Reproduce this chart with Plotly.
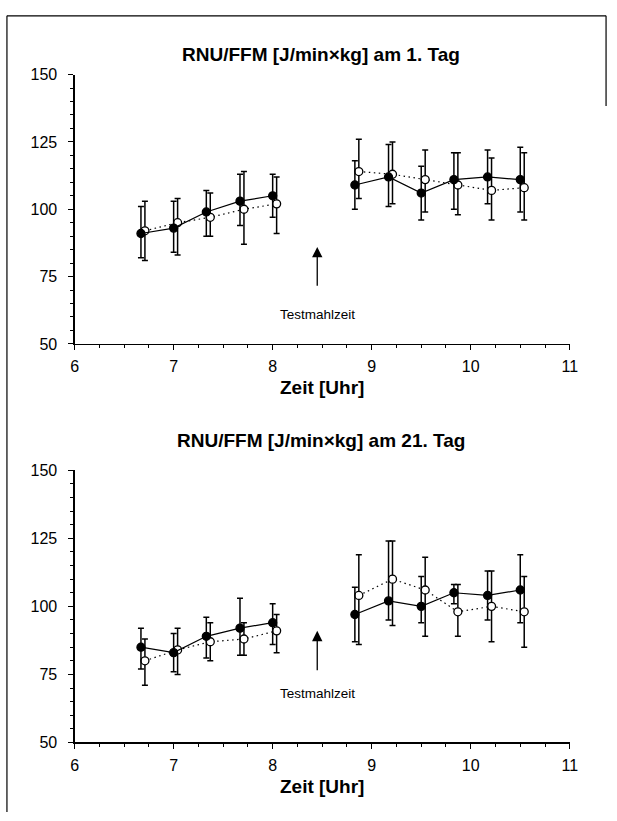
import plotly.graph_objects as go

# ---------------- data ----------------
t_pre = [6.67, 7.0, 7.33, 7.67, 8.0]
t_post = [8.83, 9.17, 9.5, 9.83, 10.17, 10.5]
shift = 0.04  # open circles drawn slightly to the right

# Day 1 (top)
d1_fill_pre = [91, 93, 99, 103, 105]
d1_fill_pre_hi = [101, 103, 107, 113, 113]
d1_fill_pre_lo = [82, 84, 90, 94, 97]
d1_open_pre = [92, 95, 97, 100, 102]
d1_open_pre_hi = [103, 104, 106, 114, 112]
d1_open_pre_lo = [81, 83, 90, 87, 91]

d1_fill_post = [109, 112, 106, 111, 112, 111]
d1_fill_post_hi = [118, 124, 116, 121, 122, 123]
d1_fill_post_lo = [100, 101, 96, 100, 102, 99]
d1_open_post = [114, 113, 111, 109, 107, 108]
d1_open_post_hi = [126, 125, 122, 121, 119, 121]
d1_open_post_lo = [104, 102, 99, 98, 96, 96]

# Day 21 (bottom)
d21_fill_pre = [85, 83, 89, 92, 94]
d21_fill_pre_hi = [92, 90, 96, 103, 101]
d21_fill_pre_lo = [77, 76, 81, 82, 86]
d21_open_pre = [80, 84, 87, 88, 91]
d21_open_pre_hi = [88, 92, 94, 94, 97]
d21_open_pre_lo = [71, 75, 80, 82, 83]

d21_fill_post = [97, 102, 100, 105, 104, 106]
d21_fill_post_hi = [107, 124, 111, 108, 113, 119]
d21_fill_post_lo = [87, 95, 94, 101, 95, 94]
d21_open_post = [104, 110, 106, 98, 100, 98]
d21_open_post_hi = [119, 124, 118, 108, 113, 111]
d21_open_post_lo = [86, 93, 89, 89, 87, 85]

titles = ["RNU/FFM [J/min\u00d7kg] am 1. Tag", "RNU/FFM [J/min\u00d7kg] am 21. Tag"]
x_title = "Zeit [Uhr]"
meal_label = "Testmahlzeit"
meal_time = 8.45
arrow_top = [86, 91]
arrow_bottom = [71, 76]
label_y = [61, 68]

FONT = "Liberation Sans"
W, H = 617, 821

fig = go.Figure()


def px_x(v):
    return v / W


def py(v):
    return 1 - v / H


xdom = [px_x(72), px_x(577)]
ydoms = [[py(343), py(68)], [py(750), py(472)]]
title_y = [35, 442]


def add_series(t, y, hi, lo, filled, xa, ya, dash, dx=0.0):
    xs = [ti + dx for ti in t]
    fig.add_trace(go.Scatter(
        x=xs, y=y, xaxis=xa, yaxis=ya, mode="lines+markers",
        line=dict(color="black", width=1.2, dash=dash),
        marker=dict(symbol="circle", size=8,
                    color="black" if filled else "white",
                    line=dict(color="black", width=1.3)),
        error_y=dict(type="data", symmetric=False,
                     array=[h - v for h, v in zip(hi, y)],
                     arrayminus=[v - l for v, l in zip(y, lo)],
                     color="black", thickness=1.5, width=3),
        showlegend=False, hoverinfo="skip"))


panels = [
    (d1_fill_pre, d1_fill_pre_hi, d1_fill_pre_lo, d1_open_pre, d1_open_pre_hi, d1_open_pre_lo,
     d1_fill_post, d1_fill_post_hi, d1_fill_post_lo, d1_open_post, d1_open_post_hi, d1_open_post_lo),
    (d21_fill_pre, d21_fill_pre_hi, d21_fill_pre_lo, d21_open_pre, d21_open_pre_hi, d21_open_pre_lo,
     d21_fill_post, d21_fill_post_hi, d21_fill_post_lo, d21_open_post, d21_open_post_hi, d21_open_post_lo),
]

DOTTED = "1.5px,3.5px"

for i, p in enumerate(panels):
    xa = "x" if i == 0 else "x2"
    ya = "y" if i == 0 else "y2"
    (fp, fph, fpl, op, oph, opl, fq, fqh, fql, oq, oqh, oql) = p
    add_series(t_pre, op, oph, opl, False, xa, ya, DOTTED, shift)
    add_series(t_pre, fp, fph, fpl, True, xa, ya, "solid")
    add_series(t_post, oq, oqh, oql, False, xa, ya, DOTTED, shift)
    add_series(t_post, fq, fqh, fql, True, xa, ya, "solid")

    axis_common = dict(showgrid=False, zeroline=False, showline=True, linecolor="black",
                       linewidth=1.2, ticks="outside", tickcolor="black", ticklen=5,
                       tickfont=dict(family=FONT, size=16, color="black"))
    xkey = "xaxis" if i == 0 else "xaxis2"
    ykey = "yaxis" if i == 0 else "yaxis2"
    fig.update_layout(**{
        xkey: dict(domain=xdom, range=[6, 11], dtick=1, anchor=ya, ticklabelstandoff=3,
                   minor=dict(dtick=0.25, ticks="outside", ticklen=3, tickcolor="black"),
                   title=dict(text=x_title, font=dict(family=FONT, size=19, color="black",
                                                      weight="bold"), standoff=6),
                   **axis_common),
        ykey: dict(domain=ydoms[i], range=[50, 150], dtick=25, anchor=xa,
                   ticklabelstandoff=8,
                   minor=dict(dtick=5, ticks="outside", ticklen=3, tickcolor="black"),
                   **axis_common),
    })

    # arrow marking the test meal
    fig.add_annotation(x=meal_time, y=arrow_top[i], ax=meal_time, ay=arrow_bottom[i],
                       xref=xa, yref=ya, axref=xa, ayref=ya, showarrow=True,
                       arrowhead=2, arrowsize=1.6, arrowwidth=1.3, arrowcolor="black", text="")
    fig.add_annotation(x=meal_time, y=label_y[i], xref=xa, yref=ya, showarrow=False,
                       text=meal_label, font=dict(family=FONT, size=13.5, color="black"))
    # panel title
    fig.add_annotation(x=px_x(323), y=py(title_y[i]), xref="paper", yref="paper",
                       showarrow=False, text=titles[i],
                       font=dict(family=FONT, size=19, color="black", weight="bold"))

# frame lines (left, top, short piece on the right)
fig.add_shape(type="line", xref="paper", yref="paper", x0=px_x(3), x1=px_x(3),
              y0=0, y1=py(8), line=dict(color="black", width=1.2))
fig.add_shape(type="line", xref="paper", yref="paper", x0=px_x(3), x1=px_x(614),
              y0=py(8), y1=py(8), line=dict(color="black", width=1.2))
fig.add_shape(type="line", xref="paper", yref="paper", x0=px_x(614), x1=px_x(614),
              y0=py(100), y1=py(8), line=dict(color="black", width=1.2))

fig.update_layout(width=W, height=H, margin=dict(l=0, r=0, t=0, b=0),
                  paper_bgcolor="white", plot_bgcolor="white")

fig.write_html("out.html", config={"displayModeBar": False, "staticPlot": True},
               post_script="document.body.style.margin='0px';document.body.style.padding='0px';")
